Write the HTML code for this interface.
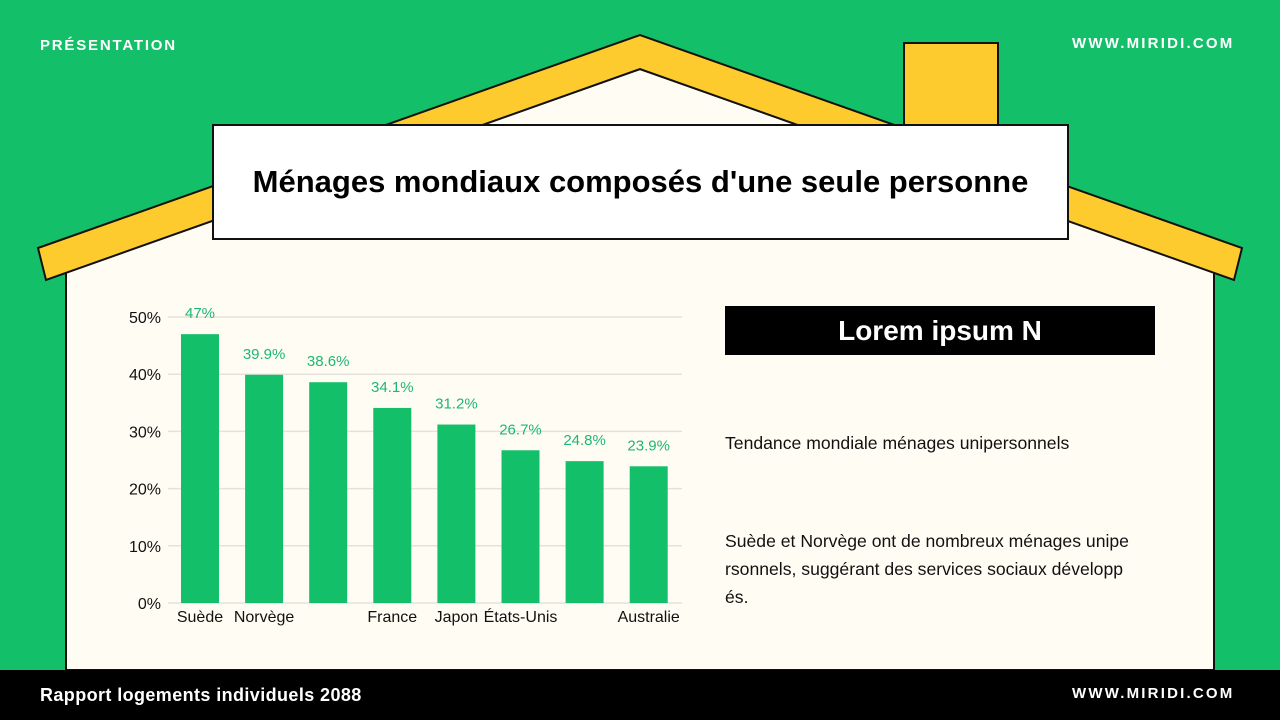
<!DOCTYPE html>
<html><head><meta charset="utf-8"><style>
body{margin:0;width:1280px;height:720px;overflow:hidden;background:#13bf68;font-family:"Liberation Sans",sans-serif;position:relative}
.abs{position:absolute}
</style></head><body>
<svg class="abs" style="left:0;top:0" width="1280" height="720">
<rect x="904" y="43" width="94" height="90" fill="#fecb2f" stroke="#111" stroke-width="2"/>
<polygon points="66,272 640,69 1214,272 1214,670 66,670" fill="#fffcf3" stroke="#111" stroke-width="2"/>
<polygon points="38,248 640,35 1242,248 1234,280 640,69 46,280" fill="#fecb2f" stroke="#111" stroke-width="2" stroke-linejoin="miter"/>
</svg>
<div class="abs" style="left:40px;top:37px;color:#fff;font-weight:bold;font-size:15px;letter-spacing:1.8px">PRÉSENTATION</div>
<div class="abs" style="left:1072px;top:35px;color:#fff;font-weight:bold;font-size:15px;letter-spacing:2.2px">WWW.MIRIDI.COM</div>
<div class="abs" style="left:212px;top:124px;width:853px;height:112px;background:#fff;border:2px solid #111;display:flex;align-items:center;justify-content:center;font-weight:bold;font-size:31px;color:#000;letter-spacing:0px">Ménages mondiaux composés d'une seule personne</div>
<svg class="abs" style="left:0;top:0" width="700" height="670" id="chart"></svg>
<div class="abs" style="left:725px;top:306px;width:430px;height:49px;background:#000;color:#fff;font-weight:bold;font-size:28px;display:flex;align-items:center;justify-content:center">Lorem ipsum N</div>
<div class="abs" style="left:725px;top:433px;font-size:17.6px;color:#111">Tendance mondiale ménages unipersonnels</div>
<div class="abs" style="left:725px;top:527px;width:440px;font-size:17.6px;line-height:28px;color:#111">Suède et Norvège ont de nombreux ménages unipe<br>rsonnels, suggérant des services sociaux développ<br>és.</div>
<div class="abs" style="left:0;top:670px;width:1280px;height:50px;background:#000"></div>
<div class="abs" style="left:40px;top:685px;color:#fff;font-weight:bold;font-size:18px;letter-spacing:0.4px">Rapport logements individuels 2088</div>
<div class="abs" style="left:1072px;top:685px;color:#fff;font-weight:bold;font-size:15px;letter-spacing:2.2px">WWW.MIRIDI.COM</div>
<script>
const categories=["Suède","Norvège","","France","Japon","États-Unis","","Australie"];
const values=[47,39.9,38.6,34.1,31.2,26.7,24.8,23.9];
const valueLabels=["47%","39.9%","38.6%","34.1%","31.2%","26.7%","24.8%","23.9%"];
const yTicks=[0,10,20,30,40,50];
const NS="http://www.w3.org/2000/svg";
const svg=document.getElementById('chart');
const y=v=>603-v*(286/50);
const x=i=>200+i*64.1;
function mk(t,a){const e=document.createElementNS(NS,t);for(const k in a)e.setAttribute(k,a[k]);svg.appendChild(e);return e;}
yTicks.forEach(t=>{
 const l=mk('line',{x1:168,x2:682,y1:y(t),y2:y(t),stroke:'#e4e2da','stroke-width':1.5});
 
 
 const tx=mk('text',{x:161,y:y(t)+6,'text-anchor':'end','font-size':16,fill:'#111','font-family':'Liberation Sans, sans-serif'});
 tx.textContent=t+'%';
 
 
});
values.forEach((v,i)=>{
 const r=mk('rect',{x:x(i)-19,y:y(v),width:38,height:603-y(v),fill:'#13bf68'});
 
 
 const lb=mk('text',{x:x(i),y:y(v)-16,'text-anchor':'middle','font-size':15,fill:'#1db872','font-family':'Liberation Sans, sans-serif'});
 lb.textContent=valueLabels[i];
 
 
 const c=mk('text',{x:x(i),y:622,'text-anchor':'middle','font-size':16,fill:'#111','font-family':'Liberation Sans, sans-serif'});
 c.textContent=categories[i];
 
 
});
</script>
</body></html>
